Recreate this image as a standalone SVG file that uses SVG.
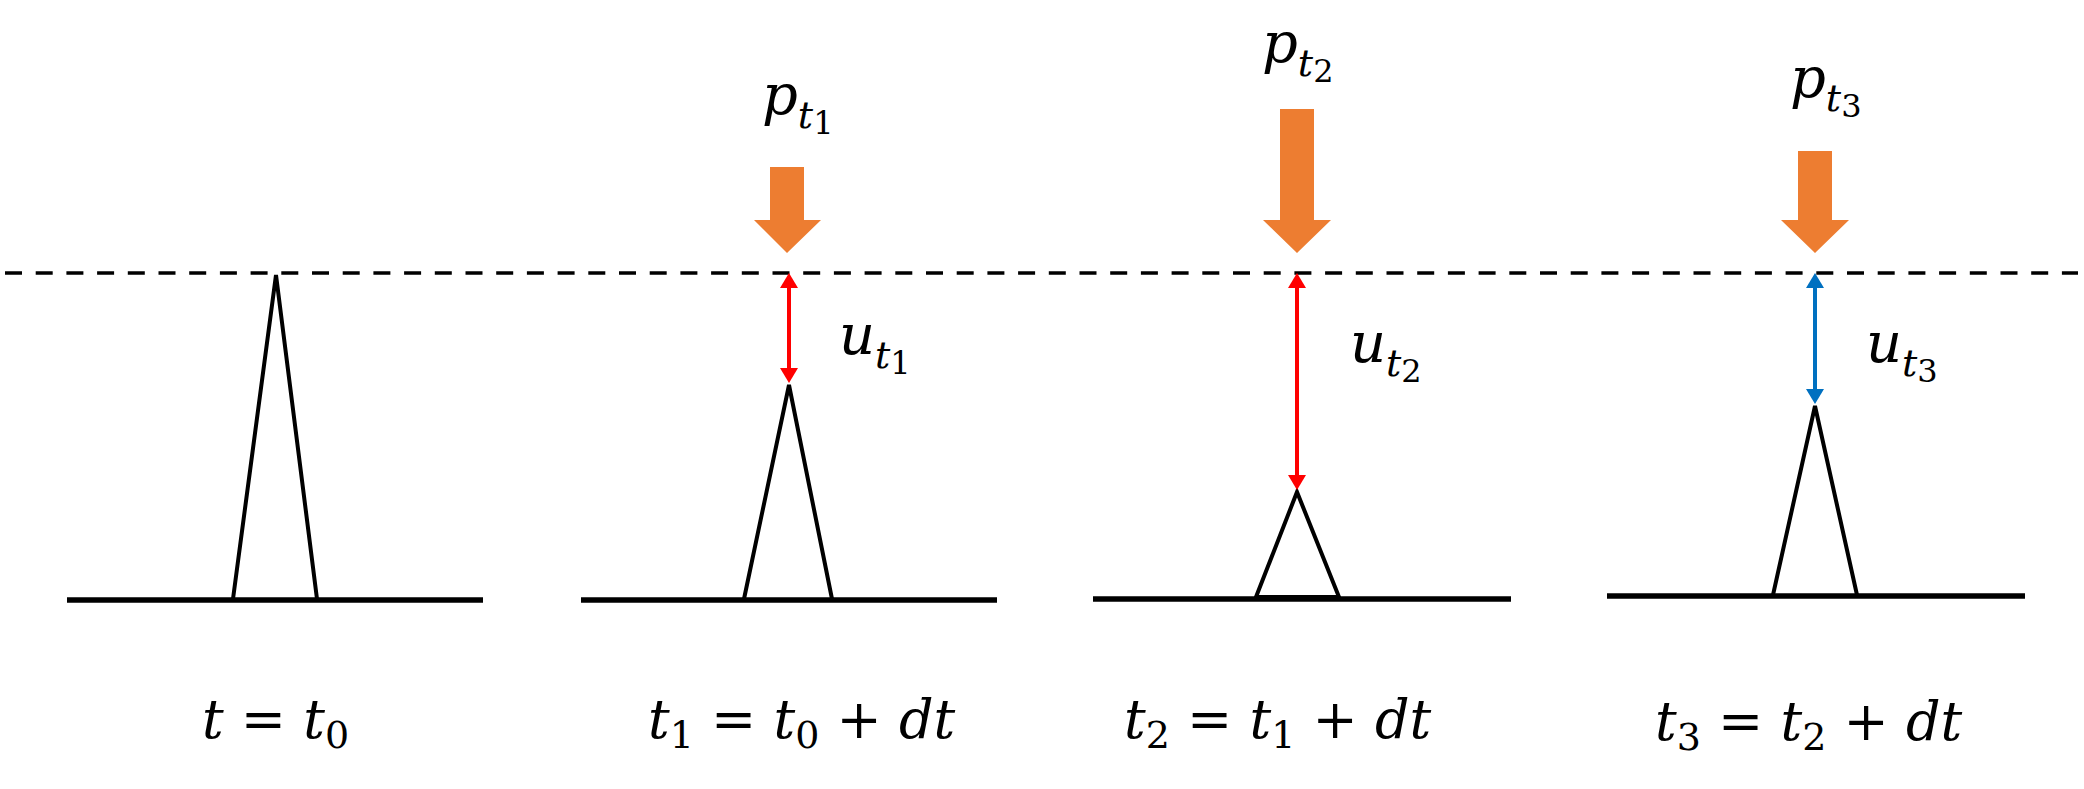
<svg xmlns="http://www.w3.org/2000/svg" width="2084" height="789" viewBox="0 0 2084 789">
<style>
.ground{stroke:#000;stroke-width:5.5;fill:none}
.tri{stroke:#000;stroke-width:4;fill:none;stroke-linejoin:miter}
.dash{stroke:#000;stroke-width:3.5;stroke-dasharray:17 13.7;fill:none}
.load{fill:#ED7D31}
.m{font-family:"DejaVu Serif","Liberation Serif",serif;font-style:italic;font-size:56px;fill:#000}
.lbl{font-family:"DejaVu Serif","Liberation Serif",serif;font-style:italic;font-size:54px;fill:#000}
.n{font-style:normal}
.red{stroke:#FF0000;stroke-width:4;fill:none}
.blue{stroke:#0070C0;stroke-width:4;fill:none}
</style>
<defs>
<marker id="hr" markerUnits="userSpaceOnUse" markerWidth="15" markerHeight="18" refX="0" refY="9" orient="auto-start-reverse" viewBox="0 0 15 18"><path d="M0,0 L15,9 L0,18 z" fill="#FF0000"/></marker>
<marker id="hb" markerUnits="userSpaceOnUse" markerWidth="15" markerHeight="18" refX="0" refY="9" orient="auto-start-reverse" viewBox="0 0 15 18"><path d="M0,0 L15,9 L0,18 z" fill="#0070C0"/></marker>
</defs>
<rect width="2084" height="789" fill="#fff"/>
<line id="reference-level" class="dash" x1="5" y1="273" x2="2078" y2="273"/>

<g id="panel-t0">
<line class="ground" x1="67" y1="600" x2="483" y2="600"/>
<path class="tri" d="M233,599 L276,275 L317,599"/>
<text class="lbl" x="202" y="738"><tspan>t</tspan><tspan class="n"> = </tspan><tspan>t</tspan><tspan class="n" font-size="38" dy="10">0</tspan></text>
</g>

<g id="panel-t1">
<line class="ground" x1="581" y1="600" x2="997" y2="600"/>
<path class="tri" d="M744,599 L789,385 L832,599"/>
<polygon class="load" points="770,167 804,167 804,220 821,220 787,253 754,220 770,220"/>
<text class="m" x="762" y="114"><tspan>p</tspan><tspan font-size="38" dy="14">t</tspan><tspan class="n" font-size="32" dy="6">1</tspan></text>
<text class="m" x="839" y="354"><tspan>u</tspan><tspan font-size="38" dy="14">t</tspan><tspan class="n" font-size="32" dy="6">1</tspan></text>
<text class="lbl" x="648" y="738"><tspan>t</tspan><tspan class="n" font-size="38" dy="10">1</tspan><tspan class="n" dy="-10"> = </tspan><tspan>t</tspan><tspan class="n" font-size="38" dy="10">0</tspan><tspan class="n" dy="-10"> + </tspan><tspan>dt</tspan></text>
</g>

<g id="panel-t2">
<line class="ground" x1="1093" y1="599" x2="1511" y2="599"/>
<path class="tri" d="M1256,597 L1297,492 L1339,597 Z"/>
<polygon class="load" points="1280,109 1314,109 1314,220 1331,220 1297,253 1263,220 1280,220"/>
<text class="m" x="1262" y="62"><tspan>p</tspan><tspan font-size="38" dy="14">t</tspan><tspan class="n" font-size="32" dy="6">2</tspan></text>
<text class="m" x="1350" y="362"><tspan>u</tspan><tspan font-size="38" dy="14">t</tspan><tspan class="n" font-size="32" dy="6">2</tspan></text>
<text class="lbl" x="1124" y="738"><tspan>t</tspan><tspan class="n" font-size="38" dy="10">2</tspan><tspan class="n" dy="-10"> = </tspan><tspan>t</tspan><tspan class="n" font-size="38" dy="10">1</tspan><tspan class="n" dy="-10"> + </tspan><tspan>dt</tspan></text>
</g>

<g id="panel-t3">
<line class="ground" x1="1607" y1="596" x2="2025" y2="596"/>
<path class="tri" d="M1773,595 L1815,406 L1857,595"/>
<polygon class="load" points="1798,151 1832,151 1832,220 1849,220 1815,253 1781,220 1798,220"/>
<text class="m" x="1790" y="97"><tspan>p</tspan><tspan font-size="38" dy="14">t</tspan><tspan class="n" font-size="32" dy="6">3</tspan></text>
<text class="m" x="1866" y="362"><tspan>u</tspan><tspan font-size="38" dy="14">t</tspan><tspan class="n" font-size="32" dy="6">3</tspan></text>
<text class="lbl" x="1655" y="740"><tspan>t</tspan><tspan class="n" font-size="38" dy="10">3</tspan><tspan class="n" dy="-10"> = </tspan><tspan>t</tspan><tspan class="n" font-size="38" dy="10">2</tspan><tspan class="n" dy="-10"> + </tspan><tspan>dt</tspan></text>
</g>

<g id="connectors">
<line class="red" x1="789" y1="288" x2="789" y2="368" marker-start="url(#hr)" marker-end="url(#hr)"/>
<line class="red" x1="1297" y1="288" x2="1297" y2="475" marker-start="url(#hr)" marker-end="url(#hr)"/>
<line class="blue" x1="1815" y1="288" x2="1815" y2="389" marker-start="url(#hb)" marker-end="url(#hb)"/>
</g>
</svg>
